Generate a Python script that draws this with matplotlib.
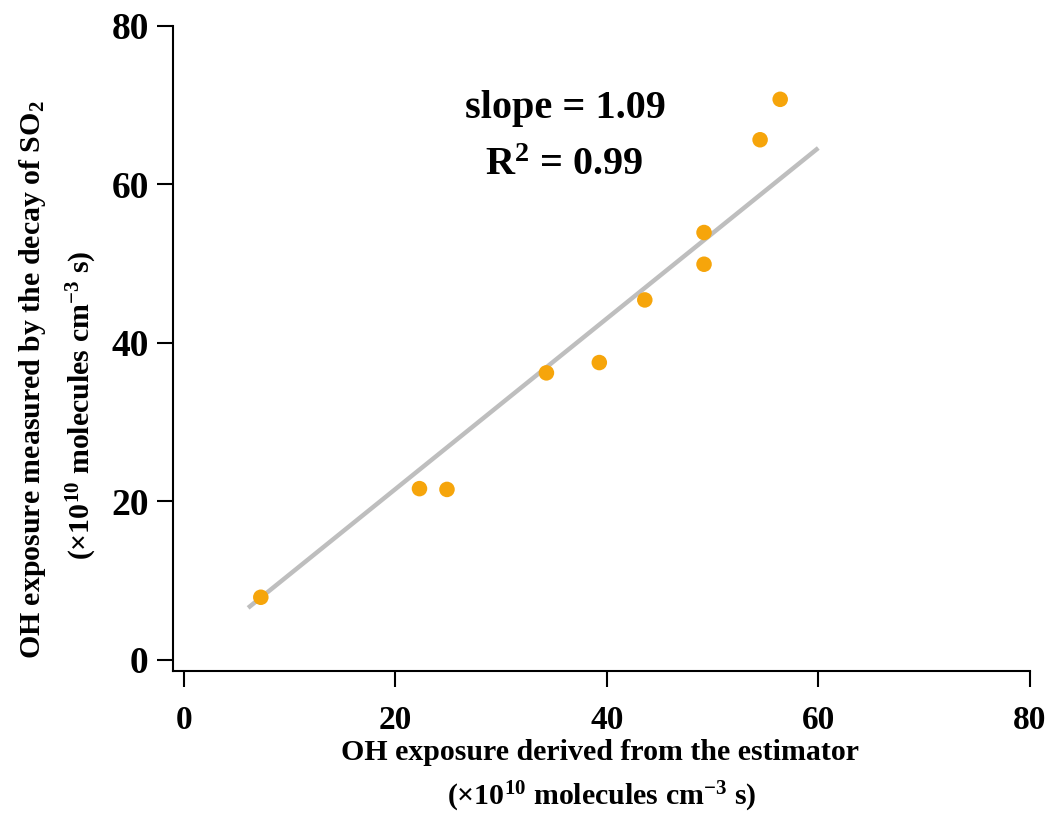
import numpy as np
import matplotlib.pyplot as plt

plt.rcParams['font.family'] = ['Liberation Serif', 'DejaVu Serif']
plt.rcParams['font.weight'] = 'bold'
plt.rcParams['mathtext.fontset'] = 'custom'
plt.rcParams['mathtext.rm'] = 'Liberation Serif:bold'
plt.rcParams['mathtext.it'] = 'Liberation Serif:bold'
plt.rcParams['mathtext.bf'] = 'Liberation Serif:bold'

# data
oh_estimator = [7.3, 22.3, 24.9, 34.3, 39.3, 43.6, 49.2, 49.2, 54.5, 56.4]
oh_so2 = [7.9, 21.6, 21.5, 36.2, 37.5, 45.4, 53.9, 49.9, 65.6, 70.7]

# fitted line as drawn
fit_x = [6.1, 60.0]
fit_slope = 1.076
fit_icpt = 0.0

xticks = [0, 20, 40, 60, 80]
yticks = [0, 20, 40, 60, 80]

fig = plt.figure(figsize=(10.53, 8.17), dpi=100)
ax = fig.add_axes([0.1643, 0.1787, 0.978 - 0.1643, 0.9687 - 0.1787])

fx = np.array(fit_x)
ax.plot(fx, fit_slope * fx + fit_icpt, color='#BEBEBE', lw=3.2, zorder=1, solid_capstyle='butt')
ax.scatter(oh_estimator, oh_so2, s=125, color='#F6A50B', edgecolors='none', zorder=2)

ax.set_xlim(-1.0, 80)
ax.set_ylim(-1.4, 80)
ax.set_xticks(xticks)
ax.set_yticks(yticks)
ax.spines['top'].set_visible(False)
ax.spines['right'].set_visible(False)
for s in ['left', 'bottom']:
    ax.spines[s].set_linewidth(1.5)
ax.tick_params(axis='x', length=11.5, width=1.5, pad=13, labelsize=24)
ax.tick_params(axis='y', length=11.5, width=1.5, pad=6, labelsize=27)

ax.text(36.1, 69.6, 'slope = 1.09', fontsize=29, fontweight='bold', ha='center', va='center')
ax.text(36.0, 62.3, r'$\mathrm{R}^{2}$ = 0.99', fontsize=29, fontweight='bold', ha='center', va='center')

# axis titles
fig.text(600 / 1053, 1 - 752 / 817, 'OH exposure derived from the estimator',
         fontsize=21.5, fontweight='bold', ha='center', va='center')
fig.text(602 / 1053, 1 - 797 / 817, r'(×10$^{10}$ molecules cm$^{-3}$ s)',
         fontsize=21.5, fontweight='bold', ha='center', va='center')
fig.text(33 / 1053, 1 - 380 / 817, r'OH exposure measured by the decay of SO$_2$',
         fontsize=21.5, fontweight='bold', ha='center', va='center', rotation=90)
fig.text(82 / 1053, 1 - 405 / 817, r'(×10$^{10}$ molecules cm$^{-3}$ s)',
         fontsize=21.5, fontweight='bold', ha='center', va='center', rotation=90)

fig.savefig('out.png', dpi=100)
